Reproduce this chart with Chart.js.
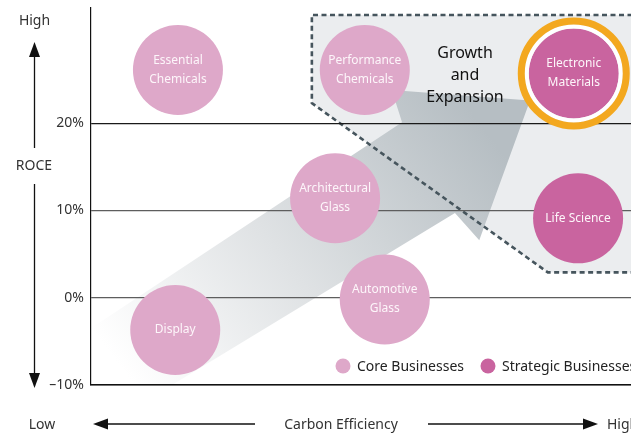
<!DOCTYPE html>
<html><head><meta charset="utf-8">
<script src="https://cdn.jsdelivr.net/npm/chart.js@4.4.1/dist/chart.umd.min.js"></script>
<style>html,body{margin:0;padding:0;background:#fff}canvas{display:block}</style>
</head><body>
<canvas id="c" width="631" height="434"></canvas>
<script>
// ---- data ----
const coreNames = [['Essential','Chemicals'],['Performance','Chemicals'],['Architectural','Glass'],['Automotive','Glass'],['Display']];
const coreCarbon = [16.1, 50.7, 45.2, 54.4, 15.6];
const coreRoce = [26.1, 26.1, 11.4, -0.2, -3.7];
const strategicNames = [['Electronic','Materials'],['Life Science']];
const strategicCarbon = [89.4, 90.2];
const strategicRoce = [25.7, 9.1];
const highlighted = ['Electronic Materials'];
const seriesLabels = ['Core Businesses','Strategic Businesses'];
const roceTicks = [-10, 0, 10, 20];
const focusTitle = ['Growth','and','Expansion'];
const yAxisTitle = 'ROCE', xAxisTitle = 'Carbon Efficiency', lowLabel = 'Low', highLabel = 'High';
// decorations, in data units (carbon, roce)
const zoneCarbon = [105, 40.9, 40.9, 84.6, 105];
const zoneRoce = [32.4, 32.4, 22.3, 2.9, 2.9];
const arrowCarbon = [-3.9, 57.6, 55.7, 81.3, 71.9, 67.4, 1.7];
const arrowRoce = [-5.1, 20.1, 23.8, 22.6, 6.6, 9.7, -15.0];

const FONT = '"Noto Sans", "Open Sans", sans-serif';
const CORE = '#dea8c9', STRAT = '#c9649f', RING = '#f3a81f';

function path(ctx, xs, ys, sx, sy){
  ctx.beginPath();
  xs.forEach((v,i)=>{const px=sx.getPixelForValue(v), py=sy.getPixelForValue(ys[i]); i?ctx.lineTo(px,py):ctx.moveTo(px,py);});
}

const decor = {
  id:'decor',
  beforeDraw(chart){
    const {ctx, chartArea:a, scales:{x,y}} = chart;
    ctx.save();
    path(ctx, zoneCarbon, zoneRoce, x, y); ctx.closePath();
    ctx.fillStyle = '#ebedef'; ctx.fill();
    ctx.save();
    ctx.beginPath(); ctx.rect(a.left, a.top, a.right-a.left, a.bottom-a.top); ctx.clip();
    path(ctx, arrowCarbon, arrowRoce, x, y); ctx.closePath();
    const g = ctx.createLinearGradient(x.getPixelForValue(8), y.getPixelForValue(-10), x.getPixelForValue(72), y.getPixelForValue(20));
    g.addColorStop(0,'#ffffff'); g.addColorStop(0.45,'#dfe2e4'); g.addColorStop(1,'#b6bec3');
    ctx.fillStyle = g; ctx.fill();
    ctx.restore();
    path(ctx, zoneCarbon, zoneRoce, x, y);
    ctx.setLineDash([5,3.5]); ctx.lineWidth = 2.6; ctx.strokeStyle = '#46555d'; ctx.stroke();
    ctx.restore();
  },
  afterDatasetsDraw(chart){
    const ctx = chart.ctx;
    ctx.save();
    chart.data.datasets.forEach((ds,di)=>{
      chart.getDatasetMeta(di).data.forEach((el,i)=>{
        const lines = ds.names[i];
        if (highlighted.includes(lines.join(' '))){
          ctx.beginPath(); ctx.arc(el.x, el.y, 47, 0, Math.PI*2); ctx.lineWidth=4; ctx.strokeStyle='#fff'; ctx.stroke();
          ctx.beginPath(); ctx.arc(el.x, el.y, 52.5, 0, Math.PI*2); ctx.lineWidth=7; ctx.strokeStyle=RING; ctx.stroke();
        }
        ctx.fillStyle = '#fdf6fa'; ctx.font = `12px ${FONT}`; ctx.textAlign='center'; ctx.textBaseline='middle';
        const lh = 19, y0 = el.y - (lines.length-1)*lh/2;
        lines.forEach((t,k)=>ctx.fillText(t, el.x, y0 + k*lh));
      });
    });
    ctx.restore();
  },
  afterDraw(chart){
    const {ctx, chartArea:a} = chart;
    ctx.save();
    ctx.fillStyle = '#111'; ctx.font = `16px ${FONT}`; ctx.textAlign='center'; ctx.textBaseline='middle';
    focusTitle.forEach((t,k)=>ctx.fillText(t, a.left+374, 53 + k*22));
    ctx.font = `14px ${FONT}`; ctx.textAlign='left';
    let mx = a.left + 252; const ly = a.bottom - 19;
    chart.data.datasets.forEach((ds)=>{
      ctx.beginPath(); ctx.arc(mx, ly, 7.5, 0, Math.PI*2); ctx.fillStyle = ds.backgroundColor; ctx.fill();
      ctx.fillStyle = '#222'; ctx.fillText(ds.label, mx+14, ly+1);
      mx += 14 + ctx.measureText(ds.label).width + 24;
    });
    ctx.fillStyle = '#333'; ctx.strokeStyle = '#111'; ctx.lineWidth = 1.3; ctx.textAlign='center';
    ctx.fillText(highLabel, 34.5, 21);
    ctx.fillText(yAxisTitle, 34, 166);
    ctx.fillText(lowLabel, 42, 425);
    ctx.fillText(xAxisTitle, 341, 425);
    ctx.textAlign='left'; ctx.fillText(highLabel, 607, 425);
    const line=(x1,y1,x2,y2)=>{ctx.beginPath();ctx.moveTo(x1,y1);ctx.lineTo(x2,y2);ctx.stroke();};
    const tri=(p)=>{ctx.beginPath();ctx.moveTo(p[0],p[1]);ctx.lineTo(p[2],p[3]);ctx.lineTo(p[4],p[5]);ctx.closePath();ctx.fillStyle='#111';ctx.fill();};
    line(34.5,55,34.5,148); tri([34.5,42,29,57,40,57]);
    line(34.5,184,34.5,374); tri([34.5,388,29,373,40,373]);
    line(106,424,255,424); tri([93,424,108,418.5,108,429.5]);
    line(428,424,585,424); tri([598,424,583,418.5,583,429.5]);
    ctx.restore();
  }
};

new Chart(document.getElementById('c'), {
  type:'bubble',
  data:{ datasets:[
    { label: seriesLabels[0], names: coreNames, data: coreCarbon.map((v,i)=>({x:v, y:coreRoce[i]})),
      backgroundColor: CORE, borderWidth:0, radius:45, hoverRadius:0, clip:false },
    { label: seriesLabels[1], names: strategicNames, data: strategicCarbon.map((v,i)=>({x:v, y:strategicRoce[i]})),
      backgroundColor: STRAT, borderWidth:0, radius:45, hoverRadius:0, clip:false }
  ]},
  options:{
    responsive:false, devicePixelRatio:1, animation:false, events:[],
    layout:{ autoPadding:false, padding:{ top:8, right:0, left:0, bottom:0 } },
    plugins:{ legend:{display:false}, tooltip:{enabled:false} },
    scales:{
      x:{ type:'linear', min:0, max:100,
          afterFit(s){ s.height = 49; s.paddingLeft = 0; s.paddingRight = 0; },
          ticks:{display:false}, grid:{display:false, drawTicks:false},
          border:{display:true, color:'#111', width:1.5} },
      y:{ type:'linear', min:-10, max:33.2,
          afterBuildTicks(s){ s.ticks = roceTicks.map(v=>({value:v})); },
          afterFit(s){ s.width = 91; s.paddingTop = 0; s.paddingBottom = 0; },
          ticks:{ padding:7, color:'#333', font:{family:FONT, size:14},
                  callback:v=>(v<0?'\u2013'+Math.abs(v):v)+'%' },
          grid:{ drawTicks:false, lineWidth:1.2,
                 color:c=> (c.tick && c.tick.value===20) ? '#1a1a1a' : '#5e5e5e' },
          border:{ display:true, color:'#111', width:1.2 } }
    }
  },
  plugins:[decor]
});
</script>
</body></html>
